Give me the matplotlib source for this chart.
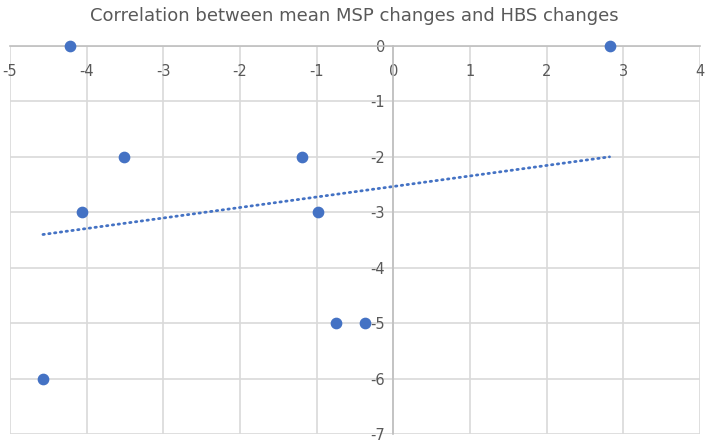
import matplotlib.pyplot as plt
import numpy as np

# mean MSP change (x) vs HBS change (y)
msp_change = [-4.22, 2.82, -3.51, -1.19, -4.06, -0.98, -0.75, -0.37, -4.57]
hbs_change = [0, 0, -2, -2, -3, -3, -5, -5, -6]
x_ticks = [-5, -4, -3, -2, -1, 0, 1, 2, 3, 4]
y_ticks = [0, -1, -2, -3, -4, -5, -6, -7]

blue = '#4472C4'
grey_txt = '#595959'
plt.rcParams['axes.unicode_minus'] = False

fig = plt.figure(figsize=(7.08, 4.44), dpi=100)
ax = fig.add_axes([10/708, 1 - 434/444, 690/708, 388/444])

ax.set_xlim(-5, 4)
ax.set_ylim(-7, 0)
ax.set_xticks(x_ticks)
ax.set_yticks(y_ticks)
ax.grid(True, color='#d9d9d9', linewidth=1.2)
ax.set_axisbelow(True)

for s in ['top', 'right']:
    ax.spines[s].set_visible(False)
ax.spines['left'].set_position(('data', 0))
ax.spines['bottom'].set_position(('data', 0))
for s in ['left', 'bottom']:
    ax.spines[s].set_color('#bfbfbf')
    ax.spines[s].set_linewidth(1.2)
ax.tick_params(length=0, labelsize=10.5, labelcolor=grey_txt)
ax.tick_params(axis='x', pad=13)
ax.tick_params(axis='y', pad=6)

ax.scatter(msp_change, hbs_change, s=55, color=blue, zorder=3, clip_on=False)

# linear trendline
k, b = np.polyfit(msp_change, hbs_change, 1)
xs = np.array([min(msp_change), max(msp_change)])
ax.plot(xs, k * xs + b, color=blue, linewidth=2, linestyle=(0, (0.5, 1.6)),
        dash_capstyle='round', zorder=2)

fig.text(0.5, 1 - 16/444, 'Correlation between mean MSP changes and HBS changes',
         ha='center', va='center', fontsize=13, color=grey_txt)

fig.savefig('out.png', dpi=100)
